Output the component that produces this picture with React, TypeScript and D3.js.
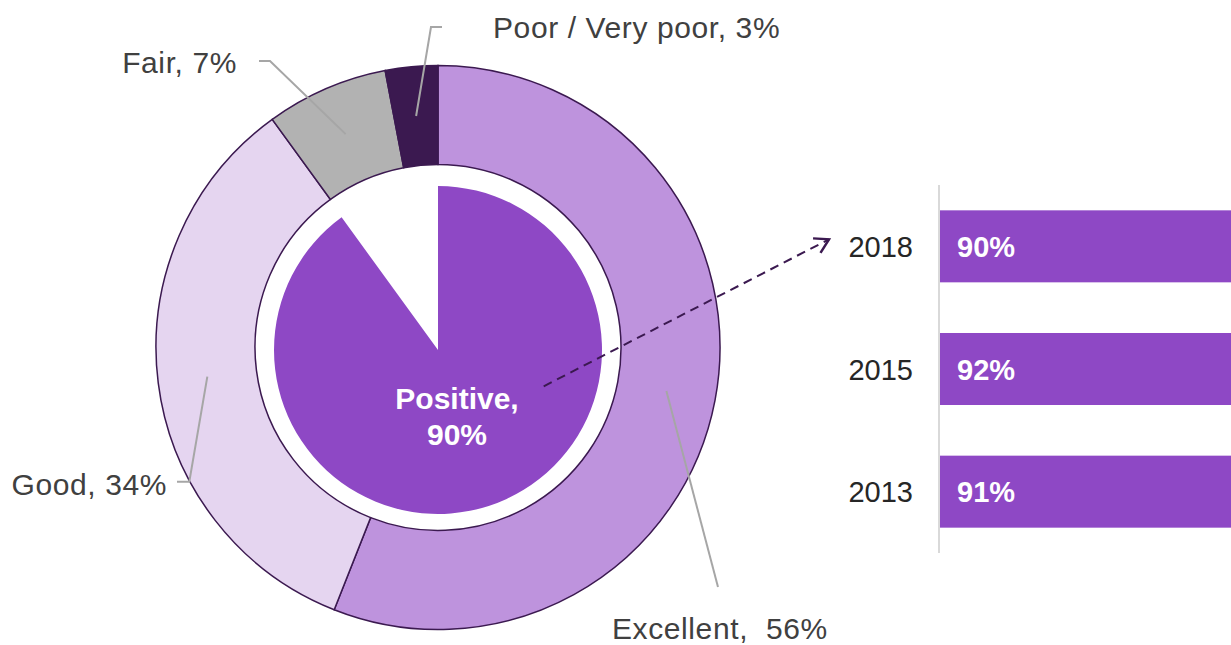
import React from "react";
import * as d3 from "d3";

// ---- data ----
const categories = ["Excellent", "Good", "Fair", "Poor / Very poor"];
const shares = [56, 34, 7, 3];
const labelSeparators = [",  ", ", ", ", ", ", "];
const positiveLabel = "Positive,";
const positiveShare = 90;
const years = ["2018", "2015", "2013"];
const positiveByYear = [90, 92, 91];

// ---- styles / layout ----
const W = 1231;
const H = 645;
const FONT = "'Liberation Sans', Arial, Helvetica, sans-serif";
const ringColors = ["#BE93DD", "#E5D5F0", "#B2B2B2", "#3B1950"];
const dark = "#3B1950";
const purple = "#8E48C5";
const leaderColor = "#A6A6A6";
const textColor = "#404040";

const ring = { cx: 438, cy: 347.5, inner: 183, outer: 282 };
const pieC = { cx: 438, cy: 350, r: 164 };

// label layout per category: elbow points (relative to ring centre) and text placement
const labelLayout: Record<string, { pts: [number, number][]; tx: number; ty: number; anchor: string }> = {
  Excellent: { pts: [[280, 239.5]], tx: 612, ty: 639, anchor: "start" },
  Good: { pts: [[-248.7, 134.2], [-261, 134.2]], tx: 167, ty: 495, anchor: "end" },
  Fair: { pts: [[-168, -286.5], [-179, -286.5]], tx: 237, ty: 73, anchor: "end" },
  "Poor / Very poor": { pts: [[-7, -320.5], [4, -320.5]], tx: 493, ty: 38, anchor: "start" },
};

export default function App() {
  const pie = d3.pie<number>().sort(null).value((d) => d);
  const ringArcs = pie(shares);
  const ringArc = d3.arc<d3.PieArcDatum<number>>().innerRadius(ring.inner).outerRadius(ring.outer);

  const innerArcs = pie([positiveShare, 100 - positiveShare]);
  const innerArc = d3.arc<d3.PieArcDatum<number>>().innerRadius(0).outerRadius(pieC.r);

  const y = d3.scaleBand<string>().domain(years).range([185, 553]).paddingInner(0.413).paddingOuter(0.2065);
  const x = d3.scaleLinear().domain([0, 100]).range([940, 1270]);

  const line = d3.line();

  return (
    <svg
      width={W}
      height={H}
      style={{ position: "absolute", left: 0, top: 0, background: "#fff" }}
      fontFamily={FONT}
    >
      <defs>
        <marker
          id="arrowHead"
          markerUnits="userSpaceOnUse"
          markerWidth="20"
          markerHeight="20"
          viewBox="-12 -8 14 16"
          refX="0"
          refY="0"
          orient="auto"
        >
          <path d="M-11,-6.5 L0,0 L-11,6.5" fill="none" stroke={dark} strokeWidth={2} />
        </marker>
      </defs>

      {/* outer ring */}
      <g transform={`translate(${ring.cx},${ring.cy})`}>
        {ringArcs.map((a, i) => (
          <path key={categories[i]} d={ringArc(a) || ""} fill={ringColors[i]} stroke={dark} strokeWidth={1.5} />
        ))}
      </g>

      {/* inner pie */}
      <g transform={`translate(${pieC.cx},${pieC.cy})`}>
        <path d={innerArc(innerArcs[0]) || ""} fill={purple} />
      </g>

      {/* leader lines and labels */}
      {ringArcs.map((a, i) => {
        const c = ringArc.centroid(a);
        const lay = labelLayout[categories[i]];
        const pts: [number, number][] = [
          [ring.cx + c[0], ring.cy + c[1]],
          ...lay.pts.map((p) => [ring.cx + p[0], ring.cy + p[1]] as [number, number]),
        ];
        return (
          <g key={"lbl" + categories[i]}>
            <path d={line(pts) || ""} fill="none" stroke={leaderColor} strokeWidth={2} />
            <text
              x={lay.tx}
              y={lay.ty}
              textAnchor={lay.anchor}
              fontSize={30}
              letterSpacing={0.6}
              fill={textColor}
              style={{ whiteSpace: "pre" }}
            >
              {`${categories[i]}${labelSeparators[i]}${shares[i]}%`}
            </text>
          </g>
        );
      })}

      {/* positive label */}
      <text x={457} y={409} textAnchor="middle" fontSize={30} fontWeight="bold" fill="#fff">
        {positiveLabel}
      </text>
      <text x={457} y={445} textAnchor="middle" fontSize={30} fontWeight="bold" fill="#fff">
        {`${positiveShare}%`}
      </text>

      {/* dashed arrow */}
      <path
        d={line([[543.7, 386.3], [829, 239.3]]) || ""}
        fill="none"
        stroke={dark}
        strokeWidth={2}
        strokeDasharray="9,6"
        markerEnd="url(#arrowHead)"
      />

      {/* bars */}
      <line x1={939} x2={939} y1={185} y2={553} stroke="#D9D9D9" strokeWidth={2} />
      {years.map((yr, i) => {
        const by = y(yr) as number;
        const bw = y.bandwidth();
        return (
          <g key={yr}>
            <rect x={x(0)} y={by} width={x(positiveByYear[i]) - x(0)} height={bw} fill={purple} />
            <text x={913} y={by + bw / 2 + 10.5} textAnchor="end" fontSize={29} fill="#262626">
              {yr}
            </text>
            <text x={x(0) + 17} y={by + bw / 2 + 10.5} fontSize={29} fontWeight="bold" fill="#fff">
              {`${positiveByYear[i]}%`}
            </text>
          </g>
        );
      })}
    </svg>
  );
}
